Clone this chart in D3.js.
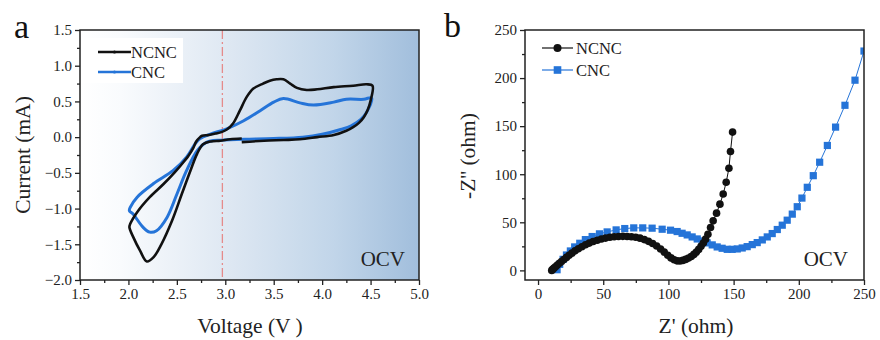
<!DOCTYPE html>
<html>
<head>
<meta charset="utf-8">
<script src="https://cdn.jsdelivr.net/npm/d3@7"></script>
<style>
  body { margin: 0; background: #fff; }
  svg, svg text { font-family: "Liberation Serif", "Times New Roman", serif; }
</style>
</head>
<body>
<div id="container"></div>
<script>

/** DATA */
// panel a: cyclic voltammetry (voltage V, current mA), traced along each loop
const cvNcncV = [3.17, 3.40, 3.60, 3.77, 3.95, 4.12, 4.25, 4.32, 4.38, 4.43, 4.47, 4.50, 4.52,
  4.46, 4.32, 4.12, 3.95, 3.84, 3.74, 3.67, 3.60, 3.53, 3.46, 3.39, 3.29, 3.22, 3.15, 3.08, 3.02,
  2.96, 2.90, 2.83, 2.76, 2.74, 2.70, 2.67, 2.62, 2.58, 2.48, 2.36, 2.22, 2.09, 2.02, 2.01,
  2.05, 2.12, 2.19, 2.26, 2.34, 2.45, 2.55, 2.64, 2.71, 2.77, 2.85, 2.95, 3.05, 3.17];
const cvNcncI = [-0.07, -0.05, -0.04, -0.03, 0.00, 0.03, 0.09, 0.14, 0.20, 0.28, 0.38, 0.51, 0.72,
  0.74, 0.72, 0.70, 0.67, 0.66, 0.69, 0.75, 0.81, 0.81, 0.79, 0.75, 0.68, 0.56, 0.37, 0.19, 0.11,
  0.07, 0.05, 0.03, 0.02, 0.00, -0.06, -0.15, -0.26, -0.33, -0.49, -0.66, -0.84, -1.05, -1.21, -1.26,
  -1.40, -1.59, -1.74, -1.68, -1.50, -1.17, -0.80, -0.47, -0.23, -0.10, -0.06, -0.05, -0.03, -0.02];

const cvCncV = [2.98, 3.20, 3.50, 3.80, 4.00, 4.20, 4.30, 4.40, 4.46, 4.51,
  4.43, 4.25, 4.12, 3.91, 3.77, 3.60, 3.50, 3.36, 3.19, 3.02, 2.84, 2.74, 2.69, 2.60, 2.46,
  2.26, 2.09, 2.02, 2.01,
  2.05, 2.15, 2.22, 2.29, 2.40, 2.50, 2.60, 2.71, 2.81, 2.98];
const cvCncI = [-0.04, -0.03, -0.02, 0.00, 0.04, 0.11, 0.16, 0.25, 0.35, 0.55,
  0.53, 0.53, 0.49, 0.45, 0.48, 0.54, 0.49, 0.37, 0.23, 0.12, 0.04, -0.02, -0.09, -0.28, -0.47,
  -0.65, -0.84, -0.98, -1.03,
  -1.08, -1.26, -1.33, -1.31, -1.12, -0.80, -0.47, -0.19, -0.07, -0.04];

// panel b: Nyquist plot (Z' ohm, -Z'' ohm)
const eisNcncRe = [10.5, 11.2, 12.2, 13.4, 14.8, 16.4, 18.0, 19.8, 21.8, 23.8, 26.0, 28.4, 30.9,
  33.6, 36.4, 39.3, 42.3, 45.4, 48.6, 51.8, 55.1, 58.4, 61.7, 65.0, 68.3, 71.6, 74.9, 78.2, 81.5,
  84.7, 87.9, 91.0, 94.0, 96.8, 99.5, 102.0, 104.4, 106.6, 108.8, 111.0, 113.2, 115.4, 117.5,
  119.5, 121.4, 123.2, 125.0, 126.8, 128.5, 130.3, 132.3, 134.3, 136.9, 139.5, 142.0, 144.3,
  146.4, 147.6, 149.2];
const eisNcncIm = [0, 1.0, 2.3, 3.8, 5.5, 7.3, 9.2, 11.3, 13.5, 15.8, 18.0, 20.3, 22.5,
  24.6, 26.6, 28.4, 30.0, 31.4, 32.6, 33.6, 34.4, 35.0, 35.3, 35.4, 35.3, 35.0, 34.4, 33.5, 32.0,
  30.2, 28.0, 25.3, 22.2, 19.0, 15.8, 13.0, 11.0, 9.9, 9.7, 10.4, 11.4, 12.8, 14.5,
  16.6, 19.0, 21.8, 25.0, 28.5, 32.5, 37.5, 44.6, 51.5, 59.5, 68.9, 79.4, 91.6,
  106.2, 123.6, 143.8];

const eisCncRe = [14.6, 16.6, 19.2, 21.8, 24.8, 28.1, 32.0, 36.3, 41.5, 47.1, 53.0, 59.9, 66.5,
  73.4, 80.3, 87.5, 95.2, 101.6, 106.7, 110.5, 114.4, 118.2, 122.1, 125.9, 129.7, 133.6, 137.4,
  141.2, 145.1, 148.9, 152.8, 156.6, 160.4, 164.3, 168.1, 172.0, 175.8, 179.6, 183.5, 187.3,
  191.1, 195.0, 198.8, 202.4, 206.5, 211.1, 216.0, 221.9, 228.2, 235.4, 243.1, 250.0];
const eisCncIm = [0.7, 6.3, 11.5, 16.0, 20.2, 24.4, 28.2, 32.0, 35.2, 38.0, 40.0, 42.1, 43.5,
  44.2, 44.2, 43.9, 42.8, 41.8, 40.4, 38.6, 36.9, 34.8, 32.7, 30.6, 28.6, 26.5, 24.4,
  23.0, 21.9, 21.9, 22.3, 23.3, 24.7, 26.8, 28.9, 31.7, 34.8, 38.3, 42.5, 47.0,
  52.2, 58.5, 66.2, 75.2, 86.4, 98.5, 112.5, 129.9, 149.0, 171.7, 197.8, 228.1];

const cvTicksX = [1.5, 2.0, 2.5, 3.0, 3.5, 4.0, 4.5, 5.0];
const cvTicksY = [-2.0, -1.5, -1.0, -0.5, 0.0, 0.5, 1.0, 1.5];
const eisTicks = [0, 50, 100, 150, 200, 250];
const ocvVoltage = 2.97;

const seriesNames = ["NCNC", "CNC"];
const black = "#111";
const blue = "#2574d8";
const serif = "Liberation Serif, Times New Roman, serif";

/** LAYOUT */
const width = 880, height = 340;

const svg = d3.select("#container")
  .append("svg")
  .attr("width", width)
  .attr("height", height);

const defs = svg.append("defs");

// draw frame + outward ticks for one panel
function drawAxes(g, x, y, xt, yt, fmtX, fmtY) {
  const [x0, x1] = x.range();
  const [y0, y1] = y.range();
  const xMinor = xt.slice(0, -1).map((d, i) => (d + xt[i + 1]) / 2);
  const yMinor = yt.slice(0, -1).map((d, i) => (d + yt[i + 1]) / 2);

  g.append("g").attr("transform", `translate(0,${y0})`)
    .call(d3.axisBottom(x).tickValues(xt).tickFormat(fmtX).tickSize(5).tickSizeOuter(0).tickPadding(3));
  g.append("g").attr("transform", `translate(0,${y0})`)
    .call(d3.axisBottom(x).tickValues(xMinor).tickFormat("").tickSize(3).tickSizeOuter(0));
  g.append("g").attr("transform", `translate(${x0},0)`)
    .call(d3.axisLeft(y).tickValues(yt).tickFormat(fmtY).tickSize(5).tickSizeOuter(0).tickPadding(3));
  g.append("g").attr("transform", `translate(${x0},0)`)
    .call(d3.axisLeft(y).tickValues(yMinor).tickFormat("").tickSize(3).tickSizeOuter(0));

  g.selectAll(".domain").remove();
  g.selectAll(".tick").each(function () {
    d3.select(this.parentNode).attr("font-family", serif).attr("font-size", 15);
  });
  g.selectAll(".tick line").attr("stroke", "#222").attr("stroke-width", 1.3);
  g.selectAll(".tick text")
    .attr("fill", "#222")
    .attr("font-family", serif)
    .style("font-size", "15px");

  g.append("rect")
    .attr("x", x0).attr("y", y1)
    .attr("width", x1 - x0).attr("height", y0 - y1)
    .attr("fill", "none")
    .attr("stroke", "#222")
    .attr("stroke-width", 1.5);
}

/** PANEL A: CV */
const xA = d3.scaleLinear().domain([1.5, 5.0]).range([80, 419]);
const yA = d3.scaleLinear().domain([-2.0, 1.5]).range([280, 30]);

const grad = defs.append("linearGradient").attr("id", "bgA")
  .attr("x1", "0%").attr("x2", "100%").attr("y1", "0%").attr("y2", "0%");
grad.append("stop").attr("offset", "0%").attr("stop-color", "#ffffff");
grad.append("stop").attr("offset", "12%").attr("stop-color", "#f9fbfd");
grad.append("stop").attr("offset", "45%").attr("stop-color", "#dde7f2");
grad.append("stop").attr("offset", "75%").attr("stop-color", "#c1d5e9");
grad.append("stop").attr("offset", "100%").attr("stop-color", "#a1bedc");

const gA = svg.append("g");
gA.append("rect")
  .attr("x", xA.range()[0]).attr("y", yA.range()[1])
  .attr("width", xA.range()[1] - xA.range()[0])
  .attr("height", yA.range()[0] - yA.range()[1])
  .attr("fill", "url(#bgA)");

// OCV marker line
gA.append("line")
  .attr("x1", xA(ocvVoltage)).attr("x2", xA(ocvVoltage))
  .attr("y1", yA.range()[1]).attr("y2", yA.range()[0])
  .attr("stroke", "#e58b8b")
  .attr("stroke-width", 1.3)
  .attr("stroke-dasharray", "9,3,2,3");

const cvLine = d3.line()
  .x(d => xA(d[0]))
  .y(d => yA(d[1]))
  .curve(d3.curveCatmullRom.alpha(0.5));

const cvSeries = [
  { name: "CNC", pts: d3.zip(cvCncV, cvCncI), color: blue, w: 3 },
  { name: "NCNC", pts: d3.zip(cvNcncV, cvNcncI), color: black, w: 2.6 }
];

gA.selectAll(".cv")
  .data(cvSeries)
  .join("path")
  .attr("class", "cv")
  .attr("d", d => cvLine(d.pts))
  .attr("fill", "none")
  .attr("stroke", d => d.color)
  .attr("stroke-width", d => d.w)
  .attr("stroke-linejoin", "round");

drawAxes(gA, xA, yA, cvTicksX, cvTicksY, d3.format(".1f"), d3.format(".1f"));

// legend a
gA.append("rect").attr("x", 82).attr("y", 38).attr("width", 101).attr("height", 45).attr("fill", "#fff");
const legA = gA.selectAll(".legA")
  .data(seriesNames)
  .join("g")
  .attr("class", "legA")
  .attr("transform", (d, i) => `translate(98,${52 + i * 20})`);
legA.append("line")
  .attr("x1", 0).attr("x2", 33)
  .attr("stroke", (d, i) => i ? blue : black)
  .attr("stroke-width", (d, i) => i ? 2.6 : 2.4);
legA.append("circle").attr("cx", 16.5).attr("r", 1.6).attr("fill", (d, i) => i ? blue : black);
legA.append("text")
  .attr("x", 33).attr("y", 5.5)
  .style("font-size", "16.5px")
  .attr("fill", "#222")
  .text(d => d);

gA.append("text").attr("x", 405).attr("y", 266).attr("text-anchor", "end")
  .style("font-size", "21px").attr("fill", "#222").text("OCV");

gA.append("text").attr("x", 250).attr("y", 333).attr("text-anchor", "middle")
  .style("font-size", "21.5px").attr("fill", "#222").text("Voltage (V )");
gA.append("text").attr("transform", "translate(30,155) rotate(-90)").attr("text-anchor", "middle")
  .style("font-size", "21.5px").attr("fill", "#222").text("Current (mA)");
gA.append("text").attr("x", 14).attr("y", 38)
  .style("font-size", "34px").attr("fill", "#111").text("a");

/** PANEL B: EIS */
const xB = d3.scaleLinear().domain([-10, 250]).range([525, 864]);
const yB = d3.scaleLinear().domain([-10, 250]).range([280, 30]);

const gB = svg.append("g");
defs.append("clipPath").attr("id", "clipB")
  .append("rect")
  .attr("x", 525).attr("y", 30).attr("width", 339).attr("height", 250);

const eisLine = d3.line().x(d => xB(d[0])).y(d => yB(d[1]));

const plotB = gB.append("g").attr("clip-path", "url(#clipB)");

const cncPts = d3.zip(eisCncRe, eisCncIm);
const ncncPts = d3.zip(eisNcncRe, eisNcncIm);

plotB.append("path").attr("d", eisLine(cncPts))
  .attr("fill", "none").attr("stroke", blue).attr("stroke-width", 1);
plotB.selectAll(".sq")
  .data(cncPts)
  .join("rect")
  .attr("class", "sq")
  .attr("x", d => xB(d[0]) - 3.6)
  .attr("y", d => yB(d[1]) - 3.6)
  .attr("width", 7.2).attr("height", 7.2)
  .attr("fill", blue);

plotB.append("path").attr("d", eisLine(ncncPts))
  .attr("fill", "none").attr("stroke", black).attr("stroke-width", 1);
plotB.selectAll(".dot")
  .data(ncncPts)
  .join("circle")
  .attr("class", "dot")
  .attr("cx", d => xB(d[0]))
  .attr("cy", d => yB(d[1]))
  .attr("r", 3.8)
  .attr("fill", black);

drawAxes(gB, xB, yB, eisTicks, eisTicks, d3.format("d"), d3.format("d"));

// legend b
const legB = gB.selectAll(".legB")
  .data(seriesNames)
  .join("g")
  .attr("class", "legB")
  .attr("transform", (d, i) => `translate(542,${48 + i * 22})`);
legB.append("line")
  .attr("x1", 0).attr("x2", 31)
  .attr("stroke", (d, i) => i ? blue : black)
  .attr("stroke-width", 1.2);
legB.filter((d, i) => i === 0).append("circle").attr("cx", 15.5).attr("r", 4).attr("fill", black);
legB.filter((d, i) => i === 1).append("rect")
  .attr("x", 11.7).attr("y", -3.8).attr("width", 7.6).attr("height", 7.6).attr("fill", blue);
legB.append("text")
  .attr("x", 34).attr("y", 5.5)
  .style("font-size", "16.5px")
  .attr("fill", "#222")
  .text(d => d);

gB.append("text").attr("x", 848).attr("y", 266).attr("text-anchor", "end")
  .style("font-size", "21px").attr("fill", "#222").text("OCV");

gB.append("text").attr("x", 696).attr("y", 333).attr("text-anchor", "middle")
  .style("font-size", "21.5px").attr("fill", "#222").text("Z' (ohm)");
gB.append("text").attr("transform", "translate(475,156) rotate(-90)").attr("text-anchor", "middle")
  .style("font-size", "21.5px").attr("fill", "#222").text("-Z'' (ohm)");
gB.append("text").attr("x", 444).attr("y", 37)
  .style("font-size", "34px").attr("fill", "#111").text("b");

</script>
</body>
</html>
